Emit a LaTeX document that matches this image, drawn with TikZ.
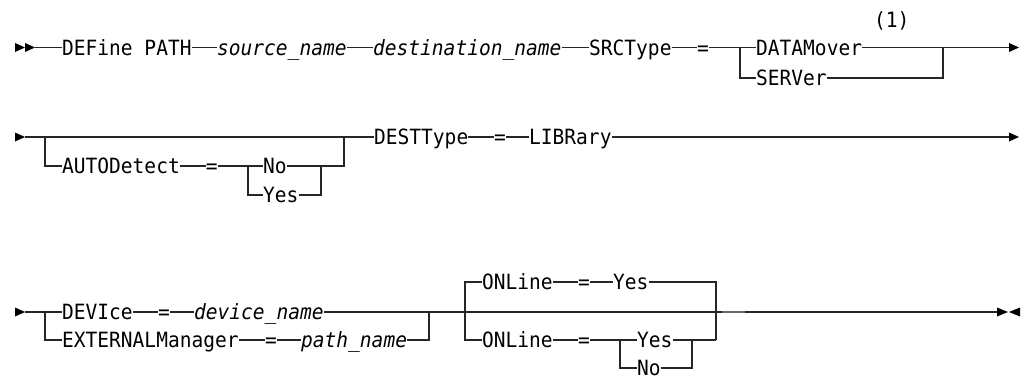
\documentclass[tikz,border=0pt]{standalone}
\usepackage{fontspec}
\newfontfamily\rrmono{DejaVu Sans Mono}[ItalicFont={DejaVu Sans Mono Oblique},FakeStretch=0.93]
\begin{document}
\begin{tikzpicture}[x=1pt,y=-1pt,
  rr/.style={line width=1.2pt, draw=black!85},
  kw/.style={inner sep=0pt, text height=15.3pt, text depth=0pt, anchor=west,
    font=\rrmono\fontsize{21}{22}\selectfont},
  var/.style={kw, font=\rrmono\itshape\fontsize{21}{22}\selectfont},
  tip/.style={fill=black}]
\useasboundingbox (0,0) rectangle (1024,377);

% ---------- row 1 ----------
\coordinate (s1) at (35,47.5);
\fill[tip] (15,43) -- (25,47.5) -- (15,52) -- cycle;
\fill[tip] (25,43) -- (35,47.5) -- (25,52) -- cycle;
\node[kw] (def) at (62,47.5) {DEFine PATH};
\node[var] (src) at (217,47.5) {source\_name};
\node[var] (dst) at (373,47.5) {destination\_name};
\node[kw] (srct) at (589,47.5) {SRCType};
\node[kw] (eq1) at (697,47.5) {=};
\coordinate (b1) at (740,47.5);
\node[kw] (dm) at (756,47.5) {DATAMover};
\node[kw] (sv) at (756,78) {SERVer};
\coordinate (m1) at (943,47.5);
\coordinate (e1) at (1009,47.5);
\node[kw] (n1) at (874,20) {(1)};
\draw[rr] (s1) -- (def.west) (def.east) -- (src.west) (src.east) -- (dst.west)
  (dst.east) -- (srct.west) (srct.east) -- (eq1.west) (eq1.east) -- (dm.west)
  (dm.east) -- (e1) (b1) |- (sv.west) (sv.east) -| (m1);
\fill[tip] (e1) ++(0,-4.5) -- ++(10,4.5) -- ++(-10,4.5) -- cycle;

% ---------- row 2 ----------
\coordinate (s2) at (25,137);
\fill[tip] (15,132.5) -- (25,137) -- (15,141.5) -- cycle;
\coordinate (b2) at (45,137);
\node[kw] (auto) at (62,166) {AUTODetect};
\node[kw] (eq2) at (205.6,166) {=};
\coordinate (b3) at (248,166);
\node[kw] (no1) at (263,166) {No};
\node[kw] (yes1) at (263,195) {Yes};
\coordinate (m3) at (321,166);
\coordinate (m2) at (344,137);
\node[kw] (dest) at (374,137) {DESTType};
\node[kw] (eq3) at (494,137) {=};
\node[kw] (lib) at (529,137) {LIBRary};
\coordinate (e2) at (1009,137);
\draw[rr] (s2) -- (dest.west) (b2) |- (auto.west) (auto.east) -- (eq2.west)
  (eq2.east) -- (no1.west) (b3) |- (yes1.west) (yes1.east) -| (m3)
  (no1.east) -| (m2) (dest.east) -- (eq3.west) (eq3.east) -- (lib.west)
  (lib.east) -- (e2);
\fill[tip] (e2) ++(0,-4.5) -- ++(10,4.5) -- ++(-10,4.5) -- cycle;

% ---------- row 3 ----------
\coordinate (s3) at (25,312);
\fill[tip] (15,307.5) -- (25,312) -- (15,316.5) -- cycle;
\coordinate (b4) at (45,312);
\node[kw] (dev) at (62,312) {DEVIce};
\node[kw] (eq4) at (158,312) {=};
\node[var] (devn) at (194,312) {device\_name};
\node[kw] (ext) at (62,340) {EXTERNALManager};
\node[kw] (eq5) at (265,340) {=};
\node[var] (pathn) at (301,340) {path\_name};
\coordinate (m4) at (429,312);
\coordinate (b5) at (465,312);
\node[kw] (on1) at (482,282) {ONLine};
\node[kw] (eq6) at (578,282) {=};
\node[kw] (yes2) at (613,282) {Yes};
\coordinate (m5) at (716,340);
\node[kw] (on2) at (482,340) {ONLine};
\node[kw] (eq7) at (578,340) {=};
\coordinate (b6) at (620,340);
\node[kw] (yes3) at (637,340) {Yes};
\node[kw] (no2) at (637,368) {No};
\coordinate (m6) at (692,340);
\coordinate (e3) at (997,312);
\draw[rr] (s3) -- (dev.west) (b4) |- (ext.west) (dev.east) -- (eq4.west)
  (eq4.east) -- (devn.west) (devn.east) -- (e3)
  (ext.east) -- (eq5.west) (eq5.east) -- (pathn.west) (pathn.east) -| (m4)
  (b5) |- (on1.west) (b5) |- (on2.west) (on1.east) -- (eq6.west)
  (eq6.east) -- (yes2.west) (yes2.east) -| (m5)
  (on2.east) -- (eq7.west) (eq7.east) -- (yes3.west) (yes3.east) -- (m5)
  (b6) |- (no2.west) (no2.east) -| (m6);
\draw[line width=1.5pt, black!60] (722,312) -- (745,312);
\fill[tip] (e3) ++(0,-4.5) -- ++(11,4.5) -- ++(-11,4.5) -- cycle;
\fill[tip] (1020,307.5) -- (1009,312) -- (1020,316.5) -- cycle;
\end{tikzpicture}
\end{document}
